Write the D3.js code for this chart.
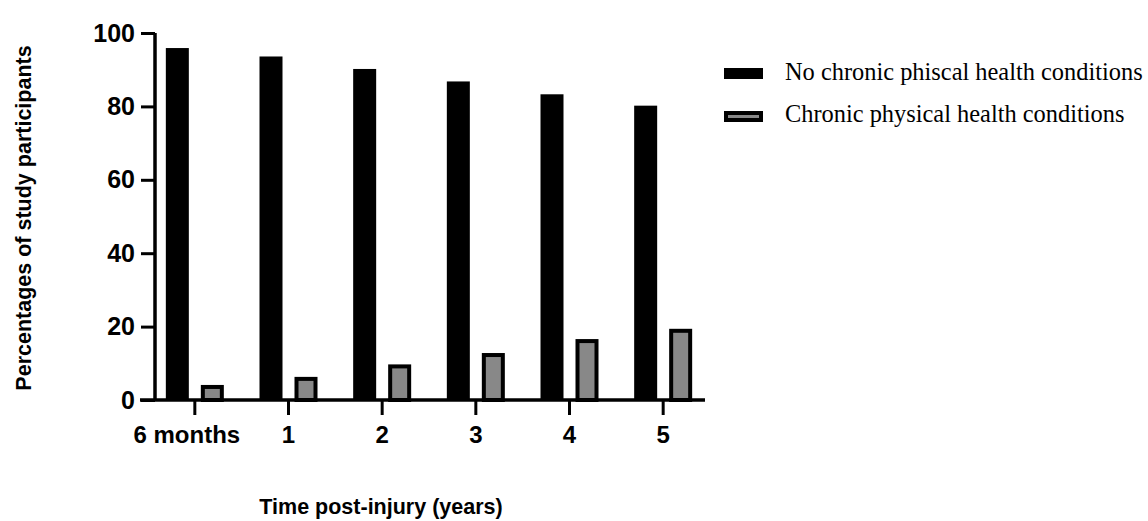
<!DOCTYPE html>
<html>
<head>
<meta charset="utf-8">
<script src="https://cdn.jsdelivr.net/npm/d3@7"></script>
<style>
  body { margin: 0; background: #fff; }
  svg { display: block; }
</style>
</head>
<body>
<div id="chart"></div>
<script>
// categories along x and the two series (percent of participants)
const timePoints = ['6 months', '1', '2', '3', '4', '5'];
const noChronic = [95.9, 93.6, 90.2, 86.8, 83.3, 80.2];
const chronic = [4.1, 6.3, 9.7, 12.8, 16.6, 19.4];
const seriesNames = ['No chronic phiscal health conditions', 'Chronic physical health conditions'];
const yTicks = [0, 20, 40, 60, 80, 100];

const width = 1148, height = 521;

const svg = d3.select('#chart')
    .append('svg')
    .attr('width', width)
    .attr('height', height);

// scales
const x = d3.scaleBand()
    .domain(timePoints)
    .range([148, 710])
    .paddingInner(0)
    .paddingOuter(0);

const y = d3.scaleLinear()
    .domain([0, 100])
    .range([400, 33]);

const barW = 23;
const gap = 12;

// black bars
svg.append('g').selectAll('rect')
    .data(noChronic)
    .enter()
    .append('rect')
    .attr('x', (d, i) => x(timePoints[i]) + x.bandwidth() / 2 - gap / 2 - barW)
    .attr('y', d => y(d))
    .attr('width', barW)
    .attr('height', d => y(0) - y(d))
    .attr('fill', '#000');

// grey bars with thick outline
svg.append('g').selectAll('rect')
    .data(chronic)
    .enter()
    .append('rect')
    .attr('x', (d, i) => x(timePoints[i]) + x.bandwidth() / 2 + gap / 2 + 2)
    .attr('y', d => y(d) + 2)
    .attr('width', barW - 4)
    .attr('height', d => y(0) - y(d) - 2)
    .attr('fill', '#888')
    .attr('stroke', '#000')
    .attr('stroke-width', 4);

const sans = 'Liberation Sans, Arial, sans-serif';

// y axis
const yAxis = svg.append('g')
    .attr('transform', 'translate(155,0)')
    .call(d3.axisLeft(y).tickValues(yTicks).tickSize(14).tickPadding(6));
yAxis.select('.domain').attr('stroke-width', 3.5).attr('d', `M0,${y(100)}V${y(0)}`);
yAxis.selectAll('.tick line').attr('stroke-width', 3);
yAxis.selectAll('.tick text')
    .attr('font-family', sans)
    .attr('font-weight', 'bold')
    .attr('font-size', 25)
    .attr('fill', '#000');

// x axis
const xAxis = svg.append('g')
    .attr('transform', `translate(0,${y(0)})`)
    .call(d3.axisBottom(x).tickSize(15).tickPadding(11));
xAxis.select('.domain').attr('stroke-width', 3.5).attr('d', 'M140,0H705');
xAxis.selectAll('.tick line').attr('stroke-width', 3);
xAxis.selectAll('.tick text')
    .attr('font-family', sans)
    .attr('font-weight', 'bold')
    .attr('font-size', 24)
    .attr('fill', '#000')
    .attr('dx', (d, i) => i === 0 ? -8 : 0);

// axis titles
svg.append('text')
    .attr('transform', 'translate(31,218) rotate(-90)')
    .attr('text-anchor', 'middle')
    .attr('font-family', sans)
    .attr('font-weight', 'bold')
    .attr('font-size', 21.5)
    .text('Percentages of study participants');

svg.append('text')
    .attr('x', 381)
    .attr('y', 514)
    .attr('text-anchor', 'middle')
    .attr('font-family', sans)
    .attr('font-weight', 'bold')
    .attr('font-size', 21.5)
    .text('Time post-injury (years)');

// legend
const legend = svg.append('g').attr('transform', 'translate(724,0)');
legend.append('rect')
    .attr('x', 0).attr('y', 68).attr('width', 39).attr('height', 11)
    .attr('fill', '#000');
legend.append('rect')
    .attr('x', 2).attr('y', 113).attr('width', 35).attr('height', 7)
    .attr('fill', '#888').attr('stroke', '#000').attr('stroke-width', 4);
legend.selectAll('text')
    .data(seriesNames)
    .enter()
    .append('text')
    .attr('x', 61)
    .attr('y', (d, i) => 80 + i * 42)
    .attr('font-family', 'Liberation Serif, Times New Roman, serif')
    .attr('font-size', 24.4)
    .attr('fill', '#000')
    .text(d => d);
</script>
</body>
</html>
